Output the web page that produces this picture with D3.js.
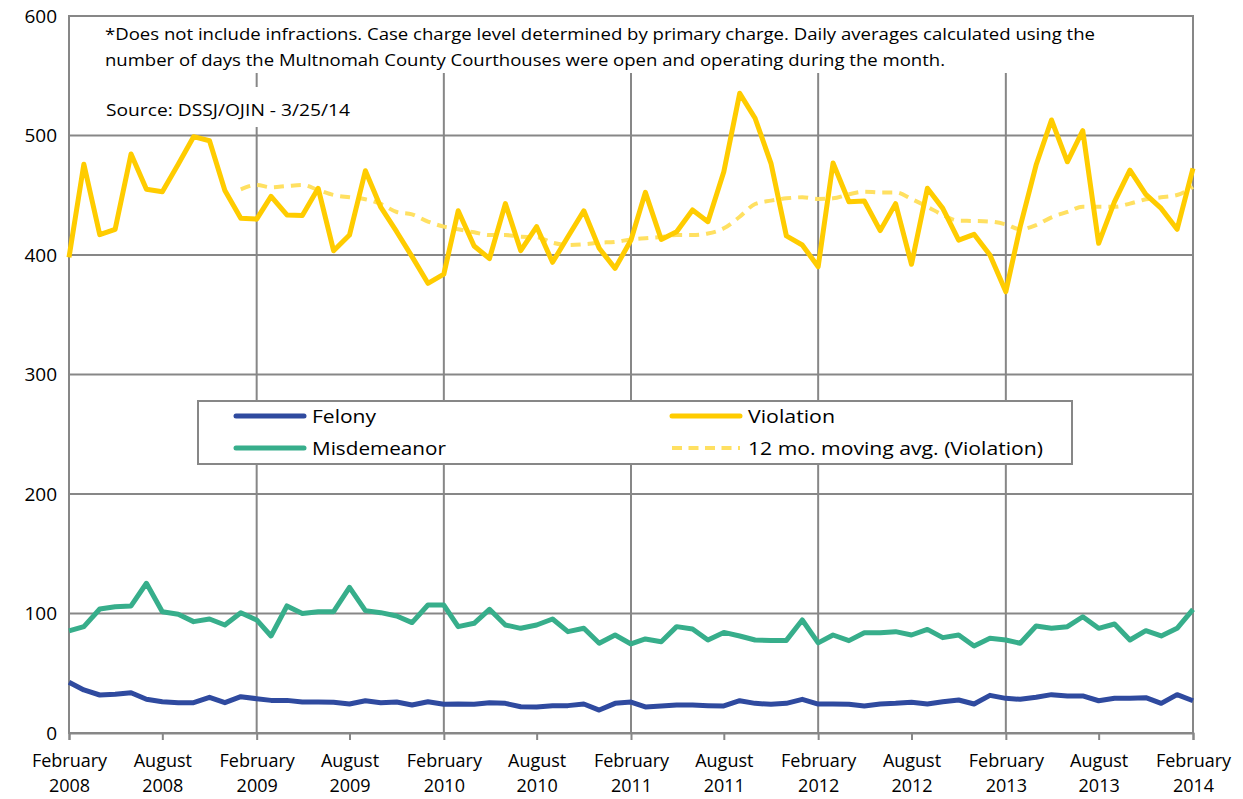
<!DOCTYPE html>
<html>
<head>
<meta charset="utf-8">
<script src="https://cdn.jsdelivr.net/npm/d3@7"></script>
<style>
  body { margin: 0; background: #fff; }
  text { font-family: "Open Sans", "Noto Sans", sans-serif; }
</style>
</head>
<body>
<div id="chart"></div>
<script>
var width = 1243;
var height = 799;
var margin = {top: 16, right: 50, bottom: 66, left: 69};

// months Feb 2008 .. Feb 2014
var months = d3.timeMonth.range(new Date(2008, 1, 1), new Date(2014, 2, 1));

var felony = [42.4, 36, 31.8, 32.4, 33.7, 28.2, 26.2, 25.4, 25.4, 29.9, 25.4, 30.4,
  28.7, 27.3, 27.3, 25.9, 25.9, 25.7, 24.3, 27, 25.4, 25.9, 23.4, 26.2,
  24, 24.3, 24, 25.4, 24.8, 22, 21.8, 22.9, 22.9, 24.3, 19.2, 24.8,
  25.9, 21.8, 22.6, 23.4, 23.4, 22.9, 22.6, 27, 24.8, 24, 24.8, 28.2,
  24.2, 24.3, 24, 22.6, 24.3, 24.8, 25.7, 24.3, 26.2, 27.6, 24.3, 31.5,
  29, 28.2, 29.9, 32.1, 31, 31, 27, 29, 29, 29.6, 24.8, 32.1, 27];

var misdemeanor = [85.4, 89, 103.8, 105.7, 106.3, 125.3, 101.5, 99.3, 93.2, 95.4, 90.4, 100.7,
  94.6, 81.2, 106.3, 100, 101.5, 101.5, 121.9, 102.4, 100.7, 97.9, 92.4, 107.1,
  107.1, 89, 91.8, 103.5, 90.4, 87.6, 90.4, 95.4, 84.8, 87.6, 75.1, 82,
  74.5, 78.7, 76.4, 89, 87, 77.8, 84.2, 81.2, 77.8, 77.5, 77.5, 94.6,
  75.4, 82, 77.3, 83.9, 83.9, 84.8, 82, 86.7, 79.8, 82, 72.8, 79.2,
  77.8, 75.1, 89.5, 87.6, 89, 97.3, 87.6, 91.2, 77.8, 85.6, 81.2, 87.6, 103.5];

var violation = [398, 476, 417, 421.5, 484.5, 455, 453, 476, 499, 495.6, 454, 430.7,
  430, 449, 433.5, 433, 455.8, 403.6, 416.7, 470.5, 440, 419.5, 398.6, 376.3,
  384, 437, 407.5, 397, 443, 403.6, 423.7, 393.9, 415.3, 437, 405.6, 388.8,
  412.5, 452.4, 413, 419.5, 437.7, 427.9, 469.7, 535.3, 514.4, 476.7, 416, 408.4,
  390.2, 477, 444.6, 445.2, 420.4, 443, 392.2, 455.8, 439, 412.5, 417.3, 400,
  369.3, 423.7, 475.3, 513, 478, 504, 409.8, 444.6, 471, 450.8, 439, 421.5, 472.5];

// 12 mo. moving average as drawn (starts at Jan 2009)
var movingAvg = [null, null, null, null, null, null, null, null, null, null, null, 455,
  458.6, 456.6, 457.7, 458.6, 454.4, 450.2, 448.3, 446.6, 442.7, 436, 434, 428,
  423.7, 421.5, 419, 416.7, 416.7, 415.3, 415, 410.3, 408.4, 409, 410.3, 411,
  413, 414, 415, 416.7, 416.7, 418, 422.3, 432, 442.7, 445.5, 447.4, 448.3,
  446.9, 447.4, 450.8, 453, 452.4, 452.4, 446.9, 440.4, 433.5, 428.7, 428.5, 428,
  425.6, 421.5, 425, 431.5, 436, 440.4, 440.4, 440.4, 443, 446.6, 448.3, 450.2, 457];

var yTicks = [0, 100, 200, 300, 400, 500, 600];
var monthNames = ['January', 'February', 'March', 'April', 'May', 'June', 'July',
  'August', 'September', 'October', 'November', 'December'];

var noteLines = [
  '*Does not include infractions. Case charge level determined by primary charge. Daily averages calculated using the',
  'number of days the Multnomah County Courthouses were open and operating during the month.'
];
var sourceText = 'Source: DSSJ/OJIN - 3/25/14';

var series = [
  {name: 'Felony', values: felony, color: '#2F4A9F', dash: null, width: 5},
  {name: 'Misdemeanor', values: misdemeanor, color: '#37AE8B', dash: null, width: 5},
  {name: 'Violation', values: violation, color: '#FFCC00', dash: null, width: 5},
  {name: '12 mo. moving avg. (Violation)', values: movingAvg, color: '#FFE061', dash: '10,7', width: 4}
];

var svg = d3.select('#chart')
  .append('svg')
  .attr('width', width)
  .attr('height', height);

var innerW = width - margin.left - margin.right;
var innerH = height - margin.top - margin.bottom;

var x = d3.scaleTime()
  .domain([months[0], months[months.length - 1]])
  .range([margin.left, margin.left + innerW]);

var y = d3.scaleLinear()
  .domain([0, 600])
  .range([margin.top + innerH, margin.top]);

var grid = '#878787';

// horizontal gridlines
svg.append('g')
  .selectAll('line')
  .data(yTicks)
  .enter()
  .append('line')
  .attr('x1', margin.left)
  .attr('x2', margin.left + innerW)
  .attr('y1', function(d){ return y(d); })
  .attr('y2', function(d){ return y(d); })
  .attr('stroke', grid)
  .attr('stroke-width', 2);

// vertical gridlines at each February
var febs = months.filter(function(d){ return d.getMonth() === 1; });
svg.append('g')
  .selectAll('line')
  .data(febs)
  .enter()
  .append('line')
  .attr('x1', function(d){ return x(d); })
  .attr('x2', function(d){ return x(d); })
  .attr('y1', margin.top)
  .attr('y2', margin.top + innerH)
  .attr('stroke', grid)
  .attr('stroke-width', 2);

// plot border
svg.append('rect')
  .attr('x', margin.left)
  .attr('y', margin.top)
  .attr('width', innerW)
  .attr('height', innerH)
  .attr('fill', 'none')
  .attr('stroke', grid)
  .attr('stroke-width', 2);

// white boxes behind the notes
svg.append('rect')
  .attr('x', 100).attr('y', margin.top + 1)
  .attr('width', 1000).attr('height', 56)
  .attr('fill', '#fff');
svg.append('rect')
  .attr('x', 100).attr('y', 87)
  .attr('width', 262).attr('height', 40)
  .attr('fill', '#fff');

// x axis: ticks every 6 months
var labelled = months.filter(function(d){ return d.getMonth() === 1 || d.getMonth() === 7; });
var xAxis = d3.axisBottom(x)
  .tickValues(labelled)
  .tickSize(7)
  .tickFormat('');
var gx = svg.append('g')
  .attr('transform', 'translate(0,' + (margin.top + innerH) + ')')
  .call(xAxis);
gx.select('.domain').attr('stroke', grid).attr('stroke-width', 2);
gx.selectAll('.tick line').attr('stroke', grid).attr('stroke-width', 2);
gx.selectAll('.tick')
  .append('text')
  .attr('fill', '#000')
  .style('font-size', '18px')
  .attr('text-anchor', 'middle')
  .selectAll('tspan')
  .data(function(d){ return [monthNames[d.getMonth()], d.getFullYear()]; })
  .enter()
  .append('tspan')
  .attr('x', 0)
  .attr('y', function(d, i){ return i === 0 ? 34 : 59; })
  .text(function(d){ return d; });

// y axis labels
var yAxis = d3.axisLeft(y)
  .tickValues(yTicks)
  .tickSize(0)
  .tickPadding(12);
var gy = svg.append('g')
  .attr('transform', 'translate(' + margin.left + ',0)')
  .call(yAxis);
gy.select('.domain').remove();
gy.selectAll('text')
  .attr('fill', '#000')
  .style('font-size', '19px')
  .style('font-family', '"Open Sans", "Noto Sans", sans-serif');

// lines
var line = d3.line()
  .defined(function(d){ return d != null; })
  .x(function(d, i){ return x(months[i]); })
  .y(function(d){ return y(d); })
  .curve(d3.curveLinear);

var smooth = d3.line()
  .defined(function(d){ return d != null; })
  .x(function(d, i){ return x(months[i]); })
  .y(function(d){ return y(d); })
  .curve(d3.curveMonotoneX);

var drawOrder = [series[3], series[0], series[1], series[2]];
drawOrder.forEach(function(s){
  svg.append('path')
    .datum(s.values)
    .attr('d', s.dash ? smooth : line)
    .attr('fill', 'none')
    .attr('stroke', s.color)
    .attr('stroke-width', s.width)
    .attr('stroke-linejoin', 'round')
    .attr('stroke-dasharray', s.dash);
});

// note text
svg.append('g')
  .selectAll('text')
  .data(noteLines)
  .enter()
  .append('text')
  .attr('x', 105)
  .attr('y', function(d, i){ return 40 + i * 26; })
  .style('font-size', '16px')
  .attr('fill', '#000')
  .attr('textLength', function(d, i){ return i === 0 ? 990 : 840; })
  .attr('lengthAdjust', 'spacingAndGlyphs')
  .text(function(d){ return d; });

svg.append('text')
  .attr('x', 106)
  .attr('y', 116)
  .style('font-size', '16px')
  .attr('fill', '#000')
  .attr('textLength', 244)
  .attr('lengthAdjust', 'spacingAndGlyphs')
  .text(sourceText);

// legend
var legend = svg.append('g');
legend.append('rect')
  .attr('x', 198).attr('y', 401)
  .attr('width', 874).attr('height', 63)
  .attr('fill', '#fff')
  .attr('stroke', grid)
  .attr('stroke-width', 2);

var legendPos = [
  {x: 234, y: 416}, {x: 234, y: 448}, {x: 670, y: 416}, {x: 670, y: 448}
];
var legendLen = [64, 134, 87, 295];
series.forEach(function(s, i){
  var p = legendPos[i];
  legend.append('line')
    .attr('x1', p.x + 2).attr('x2', p.x + 70)
    .attr('y1', p.y).attr('y2', p.y)
    .attr('stroke', s.color)
    .attr('stroke-width', s.dash ? 4 : 5)
    .attr('stroke-linecap', s.dash ? 'butt' : 'round')
    .attr('stroke-dasharray', s.dash ? '10,6.5' : null);
  legend.append('text')
    .attr('x', p.x + 78)
    .attr('y', p.y)
    .attr('dy', '0.35em')
    .style('font-size', '19px')
    .attr('fill', '#000')
    .attr('textLength', legendLen[i])
    .attr('lengthAdjust', 'spacingAndGlyphs')
    .text(s.name);
});
</script>
</body>
</html>
